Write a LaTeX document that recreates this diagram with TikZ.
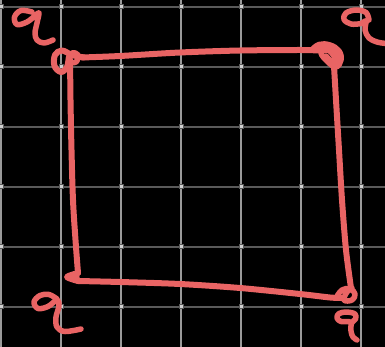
\documentclass[tikz,border=0pt]{standalone}
\begin{document}
\begin{tikzpicture}[x=1pt,y=-1pt,
  vline/.style={draw=gridv, line width=1.2pt},
  hline/.style={draw=gridh, line width=2pt},
  gdot/.style={fill=dotc, draw=gridh, line width=0.6pt},
  ink/.style={draw=inkred, line width=6pt, line cap=round, line join=round},
  inkthin/.style={draw=inkred, line width=5.5pt, line cap=round, line join=round}]
\definecolor{gridv}{HTML}{9A9A9A}
\definecolor{gridh}{HTML}{5A5A5A}
\definecolor{dotc}{HTML}{D0D0D0}
\definecolor{inkred}{HTML}{E96464}
\fill[black] (0,0) rectangle (385,347);
\useasboundingbox (0,0) rectangle (385,347);
% grid
\foreach \yy in {6.7,66.7,126.7,186.7,246.7,306.7} {
  \draw[hline] (0,\yy) -- (385,\yy);
}
\foreach \xx in {1,61,121,181,241,301,361} {
  \draw[vline] (\xx,0) -- (\xx,347);
}
\foreach \xx in {1,61,121,181,241,301,361} {
  \foreach \yy in {6.7,66.7,126.7,186.7,246.7,306.7} {
    \draw[gdot] (\xx-2,\yy-2) rectangle (\xx+2,\yy+2);
  }
}
% square: top edge
\draw[ink] plot[smooth] coordinates {(82,57.5) (120,56) (180,52.5) (240,50.5) (300,50) (318,50.5)};
% top-left loop and left edge
\draw[ink] plot[smooth, tension=0.6] coordinates {(84,57.5) (72,55) (62,50.5) (55,55) (54.5,66) (61,72) (67,67) (69,57) (70,64) (70.5,100) (71.5,150) (73,200) (75.5,240) (78,273)};
\draw[inkthin] plot[smooth, tension=0.7] coordinates {(69,60) (72,53) (78,55) (76,62) (70,62)};
% bottom-left blob and bottom edge
\draw[ink] plot[smooth, tension=0.5] coordinates {(78,273) (67,277) (78,281)};
\fill[inkred] (79,271) -- (66,277) -- (80,283) -- cycle;
\draw[ink] plot[smooth] coordinates {(78,281) (120,282) (180,284) (240,288) (300,294) (330,297.5) (342,298)};
% bottom-right loop
\draw[inkthin] plot[smooth, tension=0.7] coordinates {(336,298) (342,290) (350,289) (355,294) (352,300) (344,300) (347,292) (352,288)};
% right edge
\draw[ink] plot[smooth] coordinates {(334,66) (336,100) (339,150) (342,200) (346,250) (351,288)};
% top-right loop
\draw[inkthin] plot[smooth, tension=0.7] coordinates {(312,50) (319,44.5) (330,45) (339,51) (341,60) (336,67) (328,62) (321,53) (327,50) (334,56) (334,66)};
\draw[inkthin] plot[smooth, tension=0.7] coordinates {(316,48) (324,47) (333,52) (338,58) (333,62) (326,56)};
% labels (hand drawn)
\draw[inkthin] plot[smooth, tension=0.6] coordinates {(32,12) (21,10.5) (14.5,17) (17,24.5) (27,22) (36,15) (39,13) (37,23) (35,33) (37,40) (44,43) (53,40)};
\draw[inkthin] plot[smooth, tension=0.6] coordinates {(369,20) (366,12.5) (356,10) (346,13) (344,19.5) (351,24) (361,23.5) (366,21) (365,30) (369,38) (377,42) (386,43.5)};
\draw[inkthin] plot[smooth, tension=0.6] coordinates {(57,299) (49,294.5) (40,295.5) (34,302) (38,308.5) (48,306.5) (57,300) (59,306) (56,317) (57,327) (65,331.5) (81,329)};
\draw[inkthin] plot[smooth, tension=0.6] coordinates {(349,321.5) (341,321.5) (337,318) (339,313.5) (347,312) (355,314) (355.5,319) (351.5,323) (351,331) (353,337) (357,340)};
\end{tikzpicture}
\end{document}
